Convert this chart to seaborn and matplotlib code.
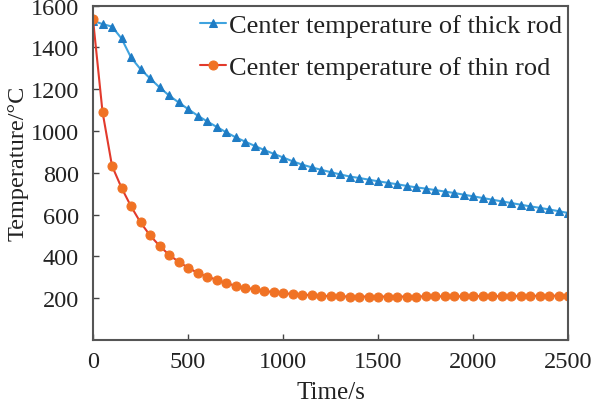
import numpy as np
import pandas as pd
import seaborn as sns
import matplotlib
matplotlib.use("Agg")
import matplotlib.pyplot as plt

time_s = list(range(0, 2501, 50))

thick_rod = [1528, 1512, 1500, 1443, 1352, 1296, 1252, 1209, 1170, 1137,
             1105, 1074, 1046, 1020, 994, 970, 949, 929, 909, 891,
             873, 855, 839, 826, 814, 803, 792, 782, 775, 767,
             759, 752, 745, 737, 730, 724, 717, 710, 703, 695,
             687, 679, 671, 663, 655, 647, 639, 632, 624, 616,
             607]

thin_rod = [1535, 1092, 833, 728, 639, 562, 500, 450, 407, 374,
            345, 321, 302, 288, 271, 259, 249, 242, 234, 228,
            223, 219, 216, 214, 211, 209, 208, 207, 207, 207,
            207, 207, 207, 207, 207, 208, 208, 208, 208, 208,
            209, 209, 209, 209, 210, 210, 210, 211, 211, 211,
            212]

legend_labels = ["Center temperature of thick rod", "Center temperature of thin rod"]
x_ticks = [0, 500, 1000, 1500, 2000, 2500]
y_ticks = [200, 400, 600, 800, 1000, 1200, 1400, 1600]

df = pd.DataFrame({"time": time_s, "thick": thick_rod, "thin": thin_rod})

sns.set_style("white")
plt.rcParams["font.family"] = ["Liberation Serif", "DejaVu Serif"]

fig = plt.figure(figsize=(5.95, 4.06), dpi=100)
ax = fig.add_axes([0.1563, 0.1606, 0.7988, 0.8229])

sns.lineplot(data=df, x="time", y="thick", ax=ax, color="#3fa3df", lw=1.5,
             marker="^", markersize=5.5, markerfacecolor="#1f7cc4",
             markeredgecolor="#1f7cc4", label=legend_labels[0])
sns.lineplot(data=df, x="time", y="thin", ax=ax, color="#e23a2c", lw=1.5,
             marker="o", markersize=6.5, markerfacecolor="#f07224",
             markeredgecolor="#f07224", label=legend_labels[1])

ax.set_xlim(0, 2500)
ax.set_ylim(0, 1600)
ax.set_xticks(x_ticks)
ax.set_yticks(y_ticks)
ax.tick_params(direction="in", length=4, width=1.0, color="#444444",
               labelsize=17.5, labelcolor="#222222", top=False, right=False,
               bottom=True, left=True)
ax.tick_params(axis="x", pad=8)
ax.tick_params(axis="y", pad=10)
for s in ax.spines.values():
    s.set_color("#555555")
    s.set_linewidth(1.5)

ax.set_xlabel("Time/s", fontsize=18, color="#222222", va="center")
ax.set_ylabel("Temperature/°C", fontsize=17.5, color="#222222", va="center")
ax.xaxis.set_label_coords(0.5, -0.156)
ax.yaxis.set_label_coords(-0.158, 0.53)

leg = ax.legend(loc="upper right", frameon=False, fontsize=19,
                handlelength=1.0, handletextpad=0.08, borderaxespad=0.05,
                labelspacing=0.68, borderpad=0.2, bbox_to_anchor=(1.0, 0.995))
for t in leg.get_texts():
    t.set_color("#222222")

fig.savefig("out.png", dpi=100)
